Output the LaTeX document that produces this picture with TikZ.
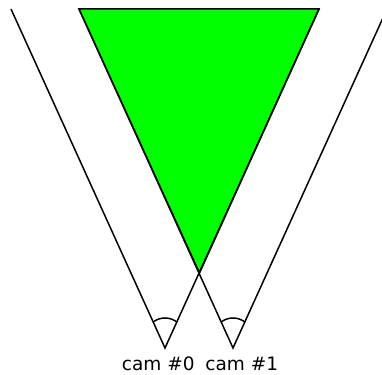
\documentclass[tikz,border=0pt]{standalone}
\usepackage{fontspec}
\setmainfont{DejaVu Sans}
\begin{document}
\begin{tikzpicture}[x=1pt,y=1pt,
  ray/.style={draw=black,line width=1.5pt},
  fov/.style={draw=black,line width=1.5pt},
  lbl/.style={anchor=base,inner sep=0pt,font=\fontsize{18.5}{21}\selectfont}]
\useasboundingbox (0,0) rectangle (382,374);
\clip (0,0) rectangle (382,374);
\coordinate (C0) at (165,26);
\coordinate (C1) at (233,26);
\coordinate (L0) at (11,365);
\coordinate (R0) at (319,365);
\coordinate (L1) at (79,365);
\coordinate (R1) at (387,365);
\coordinate (X) at (199.5,101);
\fill[green] (L1) -- (R0) -- (X) -- cycle;
\draw[ray,line join=miter] (X) -- (L1) -- (R0) -- cycle;
\draw[ray] (L0) -- (C0) -- (R0);
\draw[ray] (L1) -- (C1) -- (R1);
\draw[fov] ([shift={(52:19.5)},yshift=10.5pt]C0) arc[start angle=52,end angle=128,radius=19.5];
\draw[fov] ([shift={(52:19.5)},yshift=10.5pt]C1) arc[start angle=52,end angle=128,radius=19.5];
\node[lbl] (t0) at (158.3,4) {cam \#0};
\node[lbl] (t1) at (241.7,4) {cam \#1};
\end{tikzpicture}
\end{document}
